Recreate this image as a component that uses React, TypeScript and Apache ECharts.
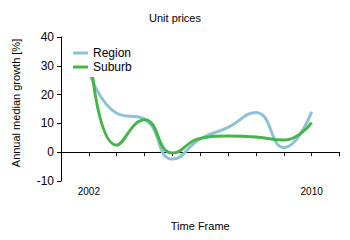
import React, { useEffect, useRef } from "react";
import * as echarts from "echarts";

const years = [2002, 2003, 2004, 2005, 2006, 2007, 2008, 2009, 2010];
const shownYears = [2002, 2010];
const regionValues = [28, 13.5, 11.5, -2.4, 4.6, 8.6, 13.8, 1.6, 14.0];
const suburbValues = [38, 2.4, 11.3, -0.3, 4.8, 5.6, 5.3, 4.2, 10.3];
const xRange = { min: 2001, max: 2011, interval: 1 };
const yTicks = { min: -10, max: 40, interval: 10 };

const FONT = "Liberation Sans";

export default function App() {
  const ref = useRef<HTMLDivElement>(null);
  useEffect(() => {
    if (!ref.current) return;
    const chart = echarts.init(ref.current, null, { renderer: "svg" });
    chart.setOption({
      animation: false,
      backgroundColor: "#ffffff",
      title: {
        text: "Unit prices",
        left: "center",
        top: 7,
        textStyle: { fontFamily: FONT, fontSize: 11, fontWeight: "normal", color: "#000" },
      },
      legend: {
        orient: "vertical",
        left: 66,
        top: 42,
        padding: [4, 8, 3, 7],
        itemGap: 0,
        itemWidth: 15,
        itemHeight: 3,
        itemTextGap: 1,
        icon: "rect",
        backgroundColor: "#ffffff",
        textStyle: { fontFamily: FONT, fontSize: 12, color: "#000", lineHeight: 14 },
        data: ["Region", "Suburb"],
      },
      grid: { left: 61, right: 10.5, top: 37, bottom: 59, containLabel: false },
      xAxis: {
        type: "value",
        min: xRange.min,
        max: xRange.max,
        interval: xRange.interval,
        name: "Time Frame",
        nameLocation: "middle",
        nameGap: 39,
        nameTextStyle: { fontFamily: FONT, fontSize: 11, color: "#000" },
        axisLine: { show: true, lineStyle: { color: "#000", width: 1 } },
        axisTick: { show: true, length: 4, lineStyle: { color: "#000" } },
        axisLabel: {
          fontFamily: FONT,
          fontSize: 10,
          color: "#000",
          margin: 5,
          showMinLabel: true,
          showMaxLabel: true,
          formatter: (v: number) => (shownYears.includes(v) ? String(v) : ""),
        },
        splitLine: { show: false },
      },
      yAxis: {
        type: "value",
        min: yTicks.min,
        max: yTicks.max,
        interval: yTicks.interval,
        name: "Annual median growth [%]",
        nameLocation: "middle",
        nameGap: 40,
        nameTextStyle: { fontFamily: FONT, fontSize: 11, color: "#000", padding: [0, 0, 0, 12] },
        axisLine: { show: true, lineStyle: { color: "#000", width: 1 } },
        axisTick: { show: true, length: 4, lineStyle: { color: "#000" } },
        axisLabel: { fontFamily: FONT, fontSize: 12, color: "#000", margin: 7 },
        splitLine: { show: false },
      },
      series: [
        {
          name: "Region",
          type: "line",
          data: years.map((y, i) => [y, regionValues[i]]),
          smooth: true,
          showSymbol: false,
          symbol: "none",
          lineStyle: { color: "#8ec1d8", width: 3 },
          itemStyle: { color: "#8ec1d8" },
          z: 2,
        },
        {
          name: "Suburb",
          type: "line",
          data: years.map((y, i) => [y, suburbValues[i]]),
          smooth: true,
          showSymbol: false,
          symbol: "none",
          lineStyle: { color: "#45b549", width: 3 },
          itemStyle: { color: "#45b549" },
          z: 2,
        },
      ],
    });
    return () => chart.dispose();
  }, []);
  return <div ref={ref} style={{ width: 350, height: 240, position: "absolute", left: 0, top: 0 }} />;
}
